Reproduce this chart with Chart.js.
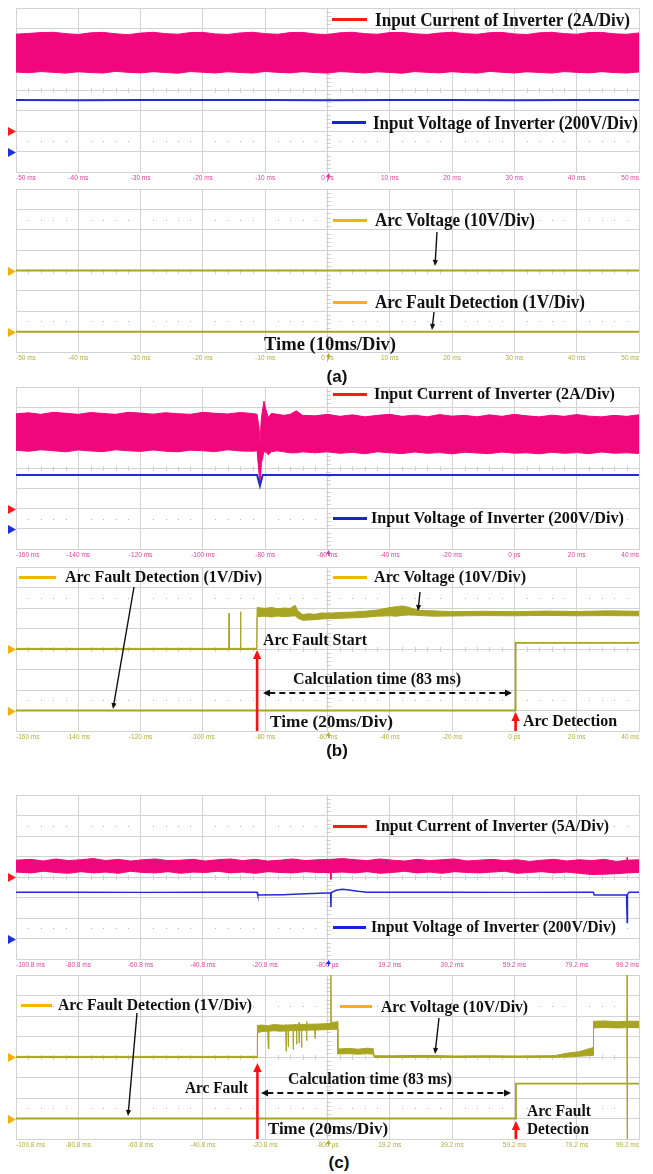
<!DOCTYPE html>
<html>
<head>
<meta charset="utf-8">
<script src="https://cdn.jsdelivr.net/npm/chart.js@4.4.1/dist/chart.umd.min.js"></script>
<style>
  html, body { margin: 0; padding: 0; background: #fff; }
  #page { position: relative; width: 653px; height: 1174px; overflow: hidden; background: #fff; }
  #page canvas { position: absolute; left: 0; }
  .note { position: absolute; white-space: nowrap; font-family: "Liberation Serif", "Times New Roman", serif;
          font-weight: bold; color: #111; transform-origin: 0 50%; }
  .tag { position: absolute; font-family: "Liberation Sans", Arial, sans-serif; font-weight: bold; color: #111;
         transform: translate(-50%, -50%); font-size: 17px; line-height: 17px; }
  .swatch { position: absolute; height: 3px; }
</style>
</head>
<body>
<div id="page"></div>
<script>
// ===================== panel (a): normal operation, 10 ms/div =====================
const ticksA  = [-50, -40, -30, -20, -10, 0, 10, 20, 30, 40, 50];
const labelsA = ['-50 ms', '-40 ms', '-30 ms', '-20 ms', '-10 ms', '0 ps', '10 ms', '20 ms', '30 ms', '40 ms', '50 ms'];

// input current ripple envelope (A)
const tCurA  = [-50,-48,-46,-44,-42,-40,-38,-36,-34,-32,-30,-28,-26,-24,-22,-20,-18,-16,-14,-12,-10,-8,-6,-4,-2,0,
                2,4,6,8,10,12,14,16,18,20,22,24,26,28,30,32,34,36,38,40,42,44,46,48,50];
const hiCurA = [9.45,9.52,9.6,9.63,9.5,9.42,9.58,9.62,9.48,9.4,9.55,9.63,9.5,9.44,9.6,9.62,9.47,9.42,9.57,9.63,
                9.5,9.43,9.6,9.62,9.46,9.41,9.58,9.63,9.5,9.44,9.6,9.62,9.48,9.42,9.56,9.63,9.5,9.43,9.59,9.62,
                9.47,9.41,9.58,9.63,9.5,9.44,9.6,9.62,9.48,9.43,9.57];
const loCurA = [5.75,5.68,5.8,5.72,5.65,5.78,5.7,5.66,5.82,5.72,5.67,5.79,5.7,5.64,5.8,5.73,5.66,5.78,5.71,5.65,
                5.81,5.72,5.67,5.79,5.7,5.65,5.8,5.73,5.66,5.78,5.71,5.64,5.8,5.72,5.67,5.79,5.7,5.65,5.81,5.73,
                5.66,5.78,5.71,5.65,5.8,5.72,5.67,5.79,5.7,5.66,5.76];
// input voltage (V)
const tVoltA = [-50,-40,-30,-20,-10,0,10,20,30,40,50];
const voltA  = [502,501,502,503,502,501,502,502,501,502,502];
// arc voltage (V) and detection output (V)
const tArcA = [-50,-25,0,25,50];
const arcA  = [0,0,0,0,0];
const tDetA = [-50,-25,0,25,50];
const detA  = [0,0,0,0,0];

// ===================== panel (b): arc fault, 20 ms/div =====================
const ticksB  = [-160, -140, -120, -100, -80, -60, -40, -20, 0, 20, 40];
const labelsB = ['-160 ms', '-140 ms', '-120 ms', '-100 ms', '-80 ms', '-60 ms', '-40 ms', '-20 ms', '0 ps', '20 ms', '40 ms'];

const tCurB  = [-160,-156,-152,-148,-144,-140,-136,-132,-128,-124,-120,-116,-112,-108,-104,-100,-96,-92,-88,-84,
                -82.6,-82,-81.7,-81.2,-80.4,-79.8,-79,-78,-76.2,-74,-72,-70,-68,
                -64,-60,-56,-52,-48,-44,-40,-36,-32,-28,-24,-20,-16,-12,-8,-4,0,4,8,12,16,20,24,28,32,36,40];
const hiCurB = [9.35,9.45,9.3,9.5,9.4,9.3,9.48,9.38,9.3,9.5,9.42,9.32,9.46,9.36,9.3,9.5,9.4,9.34,9.48,9.38,
                9.3,8.0,6.5,9.0,10.6,9.8,9.0,9.4,9.3,9.2,9.3,9.65,9.2,
                9.15,9.3,9.1,9.25,9.05,9.2,9.3,9.1,9.22,9.05,9.28,9.12,9.2,9.05,9.25,9.1,9.3,9.15,9.05,9.22,9.1,
                9.28,9.12,9.05,9.2,9.1,9.25];
const loCurB = [5.75,5.65,5.8,5.7,5.6,5.78,5.68,5.62,5.8,5.7,5.64,5.78,5.66,5.6,5.76,5.7,5.62,5.8,5.68,5.66,
                5.7,3.5,2.3,4.5,5.6,5.6,5.3,5.6,5.7,5.6,5.5,5.5,5.6,
                5.5,5.6,5.45,5.55,5.4,5.6,5.5,5.42,5.58,5.45,5.52,5.4,5.56,5.48,5.42,5.58,5.46,5.5,5.4,5.55,5.45,
                5.52,5.42,5.58,5.46,5.5,5.44];
const tVoltB = [-160,-140,-120,-100,-90,-82.6,-81.7,-80.8,-80,-60,-40,-20,0,20,40];
const voltB  = [532,531,532,531,532,532,424,530,531,532,531,532,531,532,531];

// arc voltage envelope (V): arc ignites at -82.6 ms
const tArcB  = [-160,-140,-120,-100,-92,-91.7,-91.6,-91.5,-88.1,-88,-87.9,-87.8,-82.7,-82.6,
                -80,-78,-76,-74,-72,-70.4,-69.5,-68,-66,-64,-62,-60,-56,-52,-48,-44,-40,
                -38,-36,-34,-32,-30,-26,-20,-10,0,10,20,30,40];
const hiArcB = [0.3,0.3,0.3,0.3,0.3,0.3,17.5,0.3,0.3,0.3,18.2,0.3,0.3,20.2,
                19.8,20.3,19.6,20.0,19.8,21.4,18.5,16.8,17.2,16.9,17.6,17.4,17.8,18.0,18.4,19.0,20.2,
                20.6,21.0,20.4,19.4,18.8,18.6,18.2,18.4,18.2,18.5,18.3,18.6,18.4];
const loArcB = [-0.3,-0.3,-0.3,-0.3,-0.3,-0.3,0,-0.3,-0.3,-0.3,0,-0.3,-0.3,15.8,
                16.0,15.6,16.1,15.8,16.0,16.2,15.0,14.0,14.2,14.3,14.6,14.8,15.0,15.2,15.5,16.0,16.2,
                16.0,16.4,16.6,16.5,16.3,16.0,16.1,16.3,16.2,16.4,16.2,16.3,16.2];
// detection output (V): goes high 83 ms after ignition
const tDetB = [-160,-120,-80,-40,0.4,0.4,20,40];
const detB  = [0,0,0,0,0,3.3,3.3,3.3];

// ===================== panel (c): intermittent arc, 20 ms/div =====================
const ticksC  = [-100.8, -80.8, -60.8, -40.8, -20.8, -0.8, 19.2, 39.2, 59.2, 79.2, 99.2];
const labelsC = ['-100.8 ms', '-80.8 ms', '-60.8 ms', '-40.8 ms', '-20.8 ms', '-800 µs', '19.2 ms', '39.2 ms', '59.2 ms', '79.2 ms', '99.2 ms'];

const tCurC  = [-100.8,-96,-92,-88,-84,-80,-76,-72,-68,-64,-60,-56,-52,-48,-44,-40,-36,-32,-28,-24,-20,-16,-12,-8,-4,
                0.2,0.3,0.4,4,8,12,16,20,24,28,32,36,40,44,48,52,56,60,64,68,72,76,80,84,88,92,95.3,95.4,95.5,99.2];
const hiCurC = [4.1,4.3,3.9,4.4,4.0,4.2,4.5,4.0,4.3,3.9,4.2,4.4,4.0,4.1,4.3,3.9,4.2,4.4,4.0,4.3,3.9,4.1,4.4,4.0,4.2,
                4.3,4.3,4.3,4.5,4.2,4.0,4.4,4.1,3.9,4.3,4.0,4.2,4.4,3.9,4.1,4.3,4.0,4.2,3.8,4.1,4.3,3.9,4.2,4.0,4.3,3.8,
                4.1,4.8,4.1,4.2];
const loCurC = [1.2,1.0,1.4,1.1,0.9,1.3,1.0,1.2,0.9,1.4,1.1,1.0,1.3,0.9,1.2,1.1,1.4,1.0,1.2,0.9,1.3,1.1,1.0,1.3,1.1,
                1.1,-0.6,1.1,1.2,1.0,1.3,0.9,1.1,1.4,1.0,1.2,0.9,1.3,1.1,1.0,1.2,1.4,0.9,1.1,1.3,1.0,1.2,0.9,0.6,0.7,0.8,
                1.0,1.0,1.0,1.1];
const tVoltC = [-100.8,-80,-60,-40,-23.4,-23.2,-15,-8,-1,0.2,0.3,0.4,2,4,6,9,12,20,40,60,80,84.6,84.8,95.2,95.3,95.4,95.5,96,99.2];
const voltC  = [451,452,450,451,451,424,428,436,444,446,304,448,470,480,474,460,452,451,452,450,451,451,424,424,424,157,430,451,451];

// arc voltage envelope (V): arc ignites at -23.3 ms
const tArcC  = [-100.8,-80,-60,-40,-23.4,-23.3,-22,-20,-19.8,-19.6,-18,-16,-14.2,-14.1,-14,-13.5,-13.4,-13.3,-11.9,-11.8,
                -11.7,-10.8,-10.7,-10.6,-10,-9.9,-9.8,-9.2,-9.1,-9,-7.6,-7.5,-7.4,-4.9,-4.8,-4.7,-2,0.2,0.3,0.4,
                2.4,2.5,6,9,12,13.9,14.2,20,30,40,50,60,70,72.3,76,80,84.5,84.6,88,92,95.3,95.4,95.5,99.2];
const hiArcC = [0.3,0.3,0.3,0.3,0.3, 15.4,15.6,15.2,15.2,15.4, 15.8,15.6,15.5,15.8,15.5, 15.6,15.7,15.6,15.7,15.7,
                15.8,15.8,15.8,15.9,15.9, 17.0,15.8,15.9,15.9,15.9, 15.9,17.2,16.0,16.0,16.2, 16.0,16.2,16.4,40,16.8,
                17.2,3.9,4.2,3.8,4.3, 4.0,0.6,0.6,0.8,0.5, 0.6,0.5,0.6,0.7,1.8, 2.6,4.6,17.4,17.6,17.2, 17.4,40,17.5,17.4];
const loArcC = [-0.3,-0.3,-0.3,-0.3,-0.3, 11.8,12.4,12.6,4.0,12.6, 12.8,12.6,12.7,2.8,12.7, 12.8,5.0,12.8,12.9,3.6,
                12.9,12.8,6.2,12.9,12.9, 6.8,12.8,13.0,4.6,13.0, 13.1,8.0,13.1,13.2,9.0, 13.2,13.3,13.4,13.4,13.5,
                13.6,1.5,1.6,1.4,1.6, 1.4,-0.2,-0.2,-0.1,-0.2, -0.1,-0.2,-0.1,-0.1,0.0, 0.4,0.8,14.2,14.4,14.2, 14.3,-40,14.4,14.3];
// detection output (V): goes high 83 ms after ignition
const tDetC = [-100.8,-60,-20,20,59.7,59.7,80,99.2];
const detC  = [0,0,0,0,0,1.7,1.7,1.7];

// ===================== styling =====================
const GRID = '#d2d2d2', DOTS = '#b4b4b4';
const PINK = 'rgb(242,6,124)', BLUE = 'rgb(35,45,205)', OLIVE = 'rgb(168,164,36)';
const TICK_PINK = '#d8449c', TICK_OLIVE = '#b2ae3c';
const MK_RED = '#ff1a1a', MK_BLUE = '#1f2fe0', MK_YEL = '#f2b000';
const SW_RED = '#ff1a1a', SW_BLUE = '#1a22d6', SW_YEL = '#f4b400';

const pts = (t, v) => t.map((x, i) => ({ x, y: v[i] }));
function band(t, hi, lo, axis, color) {
  return [
    { data: pts(t, hi), yAxisID: axis, borderColor: color, borderWidth: 1, fill: false },
    { data: pts(t, lo), yAxisID: axis, borderColor: color, borderWidth: 1, fill: '-1', backgroundColor: color }
  ];
}
function trace(t, v, axis, color, w) {
  return { data: pts(t, v), yAxisID: axis, borderColor: color, borderWidth: w, fill: false };
}

// scope graticule extras, channel markers and annotation arrows
function drawHead(ctx, x, y, ang, len, half) {
  ctx.beginPath();
  ctx.moveTo(x, y);
  ctx.lineTo(x - len * Math.cos(ang) + half * Math.sin(ang), y - len * Math.sin(ang) - half * Math.cos(ang));
  ctx.lineTo(x - len * Math.cos(ang) - half * Math.sin(ang), y - len * Math.sin(ang) + half * Math.cos(ang));
  ctx.closePath();
  ctx.fill();
}
const ARROW = {
  thin:   { color: '#111', w: 1.4, len: 6, half: 2.6 },
  red:    { color: '#ff1010', w: 2.6, len: 9, half: 4.2 },
  dashed: { color: '#111', w: 2, len: 7, half: 3.6, dash: [6, 4], both: true }
};
const scopePlugin = {
  id: 'scope',
  beforeDatasetsDraw(chart) {
    const { ctx, chartArea: { left, right, top, bottom } } = chart;
    const dx = (right - left) / 10, dy = (bottom - top) / 8;
    const cx = left + 5 * dx, cy = top + 4 * dy;
    ctx.save();
    ctx.fillStyle = GRID;
    for (let i = 1; i < 50; i++) {
      if (i % 5 === 0) continue;
      ctx.fillRect(Math.round(left + i * dx / 5), Math.round(cy) - 2, 1, 5);
    }
    for (let j = 1; j < 40; j++) {
      if (j % 5 === 0) continue;
      ctx.fillRect(Math.round(cx) - 2, Math.round(top + j * dy / 5), 5, 1);
    }
    ctx.fillStyle = DOTS;
    for (const r of [1.5, 6.5]) {
      const y = Math.round(top + r * dy);
      for (let i = 1; i < 50; i++) {
        if (i % 5 === 0) continue;
        ctx.fillRect(Math.round(left + i * dx / 5), y, 1, 1);
      }
    }
    ctx.restore();
  },
  afterDraw(chart, args, opts) {
    const { ctx, chartArea: { left, right, bottom } } = chart;
    ctx.save();
    // channel ground markers
    for (const m of opts.markers) {
      const y = Math.round(chart.scales[m.axis].getPixelForValue(0)) + 0.5;
      ctx.fillStyle = m.color;
      ctx.beginPath();
      ctx.moveTo(left - 8, y - 4.5); ctx.lineTo(left, y); ctx.lineTo(left - 8, y + 4.5); ctx.closePath();
      ctx.fill();
    }
    // trigger position marker under the time axis
    const cx = Math.round((left + right) / 2) + 0.5;
    ctx.fillStyle = opts.trigColor;
    ctx.beginPath();
    ctx.moveTo(cx, bottom + 1); ctx.lineTo(cx - 2.5, bottom + 5); ctx.lineTo(cx + 2.5, bottom + 5); ctx.closePath();
    ctx.fill();
    ctx.fillRect(cx - 0.5, bottom + 4, 1, 3);
    // annotation arrows (page coordinates, or time for x)
    const top0 = opts.pageTop;
    for (const a of opts.arrows) {
      const st = ARROW[a.kind];
      const x1 = a.t1 !== undefined ? chart.scales.x.getPixelForValue(a.t1) : a.x1;
      const x2 = a.t2 !== undefined ? chart.scales.x.getPixelForValue(a.t2) : a.x2;
      const y1 = a.y1 - top0, y2 = a.y2 - top0;
      const ang = Math.atan2(y2 - y1, x2 - x1);
      const ux = Math.cos(ang), uy = Math.sin(ang);
      ctx.strokeStyle = st.color; ctx.fillStyle = st.color; ctx.lineWidth = st.w;
      ctx.setLineDash(st.dash || []);
      ctx.beginPath();
      const s = st.both ? st.len * 0.9 : 0;
      ctx.moveTo(x1 + ux * s, y1 + uy * s);
      ctx.lineTo(x2 - ux * st.len * 0.9, y2 - uy * st.len * 0.9);
      ctx.stroke();
      ctx.setLineDash([]);
      drawHead(ctx, x2, y2, ang, st.len, st.half);
      if (st.both) drawHead(ctx, x1, y1, ang + Math.PI, st.len, st.half);
    }
    ctx.restore();
  }
};

// ===================== panels =====================
const panels = [
  { top: 8, bottom: 172, xMin: -50, xMax: 50, ticks: ticksA, labels: labelsA, tickColor: TICK_PINK, trigColor: TICK_PINK,
    axes: { i: { offset: -2, perDiv: 2 }, v: { offset: -3, perDiv: 200 } },
    markers: [{ axis: 'i', color: MK_RED }, { axis: 'v', color: MK_BLUE }],
    datasets: [trace(tVoltA, voltA, 'v', BLUE, 2), ...band(tCurA, hiCurA, loCurA, 'i', PINK)],
    arrows: [] },
  { top: 189, bottom: 352, xMin: -50, xMax: 50, ticks: ticksA, labels: labelsA, tickColor: TICK_OLIVE, trigColor: TICK_OLIVE,
    axes: { a: { offset: 0, perDiv: 10 }, d: { offset: -3, perDiv: 1 } },
    markers: [{ axis: 'a', color: MK_YEL }, { axis: 'd', color: MK_YEL }],
    datasets: [trace(tArcA, arcA, 'a', OLIVE, 2), trace(tDetA, detA, 'd', OLIVE, 2)],
    arrows: [ { kind: 'thin', x1: 437, y1: 232, x2: 435, y2: 266 },
              { kind: 'thin', x1: 434, y1: 312, x2: 432, y2: 330 } ] },
  { top: 387, bottom: 549, xMin: -160, xMax: 40, ticks: ticksB, labels: labelsB, tickColor: TICK_PINK, trigColor: TICK_PINK,
    axes: { i: { offset: -2, perDiv: 2 }, v: { offset: -3, perDiv: 200 } },
    markers: [{ axis: 'i', color: MK_RED }, { axis: 'v', color: MK_BLUE }],
    datasets: [trace(tVoltB, voltB, 'v', BLUE, 2), ...band(tCurB, hiCurB, loCurB, 'i', PINK)],
    arrows: [] },
  { top: 567, bottom: 731, xMin: -160, xMax: 40, ticks: ticksB, labels: labelsB, tickColor: TICK_OLIVE, trigColor: TICK_OLIVE,
    axes: { a: { offset: 0, perDiv: 10 }, d: { offset: -3, perDiv: 1 } },
    markers: [{ axis: 'a', color: MK_YEL }, { axis: 'd', color: MK_YEL }],
    datasets: [trace(tDetB, detB, 'd', OLIVE, 1.8), ...band(tArcB, hiArcB, loArcB, 'a', OLIVE)],
    arrows: [ { kind: 'thin', x1: 134, y1: 587, x2: 113, y2: 709 },
              { kind: 'thin', x1: 420, y1: 592, x2: 418, y2: 611 },
              { kind: 'red', t1: -82.6, y1: 731, t2: -82.6, y2: 650 },
              { kind: 'red', t1: 0.4, y1: 731, t2: 0.4, y2: 712 },
              { kind: 'dashed', x1: 263, y1: 693, x2: 512, y2: 693 } ] },
  { top: 795, bottom: 959, xMin: -100.8, xMax: 99.2, ticks: ticksC, labels: labelsC, tickColor: TICK_PINK, trigColor: MK_BLUE,
    axes: { i: { offset: 0, perDiv: 5 }, v: { offset: -3, perDiv: 200 } },
    markers: [{ axis: 'i', color: MK_RED }, { axis: 'v', color: MK_BLUE }],
    datasets: [trace(tVoltC, voltC, 'v', BLUE, 1.5), ...band(tCurC, hiCurC, loCurC, 'i', PINK)],
    arrows: [] },
  { top: 975, bottom: 1139, xMin: -100.8, xMax: 99.2, ticks: ticksC, labels: labelsC, tickColor: TICK_OLIVE, trigColor: TICK_OLIVE,
    axes: { a: { offset: 0, perDiv: 10 }, d: { offset: -3, perDiv: 1 } },
    markers: [{ axis: 'a', color: MK_YEL }, { axis: 'd', color: MK_YEL }],
    datasets: [trace(tDetC, detC, 'd', OLIVE, 1.8), ...band(tArcC, hiArcC, loArcC, 'a', OLIVE)],
    arrows: [ { kind: 'thin', x1: 137, y1: 1013, x2: 128, y2: 1116 },
              { kind: 'thin', x1: 439, y1: 1018, x2: 435, y2: 1054 },
              { kind: 'red', t1: -23.3, y1: 1139, t2: -23.3, y2: 1063 },
              { kind: 'red', t1: 59.7, y1: 1139, t2: 59.7, y2: 1121 },
              { kind: 'dashed', x1: 261, y1: 1093, x2: 511, y2: 1093 } ] }
];

const page = document.getElementById('page');
const DIVS_Y = [-4, -3, -2, -1, 0, 1, 2, 3, 4];

panels.forEach(p => {
  const cv = document.createElement('canvas');
  const pageTop = p.top - 1;
  const h = (p.bottom - p.top) + 1 + 12;
  cv.width = 653; cv.height = h;
  cv.style.top = pageTop + 'px';
  cv.style.width = '653px'; cv.style.height = h + 'px';
  page.appendChild(cv);

  const scales = {
    x: {
      type: 'linear', position: 'bottom', min: p.xMin, max: p.xMax,
      afterBuildTicks: s => { s.ticks = p.ticks.map(v => ({ value: v })); },
      afterFit: s => { s.height = 12; },
      grid: { color: GRID, lineWidth: 1, drawTicks: false },
      border: { color: GRID },
      ticks: { align: 'inner', padding: 2, color: p.tickColor, maxRotation: 0, autoSkip: false,
               font: { family: "'Liberation Sans', Arial, sans-serif", size: 6.5 },
               callback: (v, i) => p.labels[i] }
    },
    g: {
      type: 'linear', position: 'left', min: -4, max: 4,
      afterBuildTicks: s => { s.ticks = DIVS_Y.map(v => ({ value: v })); },
      afterFit: s => { s.width = 0; },
      grid: { color: GRID, lineWidth: 1, drawTicks: false },
      border: { color: GRID },
      ticks: { display: false }
    }
  };
  for (const [id, a] of Object.entries(p.axes)) {
    scales[id] = { type: 'linear', display: false,
                   min: (-4 - a.offset) * a.perDiv, max: (4 - a.offset) * a.perDiv };
  }

  new Chart(cv, {
    type: 'line',
    data: { datasets: p.datasets },
    options: {
      responsive: false, animation: false, devicePixelRatio: 1, events: [],
      layout: { padding: { left: 16, right: 14, top: 1, bottom: 0 } },
      elements: { line: { tension: 0, borderCapStyle: 'butt' }, point: { radius: 0 } },
      plugins: {
        legend: { display: false }, tooltip: { enabled: false },
        scope: { markers: p.markers, arrows: p.arrows, trigColor: p.trigColor, pageTop }
      },
      scales
    },
    plugins: [scopePlugin]
  });
});

// ===================== legends and captions =====================
const swatches = [
  { x1: 332, x2: 367, y: 19, color: SW_RED },   { x1: 332, x2: 366, y: 122, color: SW_BLUE },
  { x1: 333, x2: 367, y: 220, color: SW_YEL },  { x1: 333, x2: 367, y: 302, color: SW_YEL },
  { x1: 333, x2: 367, y: 394, color: SW_RED },  { x1: 333, x2: 367, y: 518, color: SW_BLUE },
  { x1: 19,  x2: 56,  y: 577, color: SW_YEL },  { x1: 333, x2: 367, y: 577, color: SW_YEL },
  { x1: 333, x2: 367, y: 826, color: SW_RED },  { x1: 333, x2: 366, y: 927, color: SW_BLUE },
  { x1: 21,  x2: 52,  y: 1005, color: SW_YEL }, { x1: 340, x2: 372, y: 1006, color: SW_YEL }
];
swatches.forEach(s => {
  const d = document.createElement('div');
  d.className = 'swatch';
  d.style.left = s.x1 + 'px'; d.style.width = (s.x2 - s.x1) + 'px';
  d.style.top = (s.y - 1.5) + 'px'; d.style.background = s.color;
  page.appendChild(d);
});

const notes = [
  { text: 'Input Current of Inverter (2A/Div)',   x: 375, y: 19,   w: 255, size: 19 },
  { text: 'Input Voltage of Inverter (200V/Div)', x: 373, y: 122,  w: 265, size: 19 },
  { text: 'Arc Voltage (10V/Div)',                x: 375, y: 220,  w: 160, size: 18.5 },
  { text: 'Arc Fault Detection (1V/Div)',         x: 375, y: 302,  w: 210, size: 18.5 },
  { text: 'Time (10ms/Div)',                      x: 264, y: 344,  w: 132, size: 18 },
  { text: 'Input Current of Inverter (2A/Div)',   x: 374, y: 394,  w: 241, size: 17.5 },
  { text: 'Input Voltage of Inverter (200V/Div)', x: 371, y: 518,  w: 253, size: 17.5 },
  { text: 'Arc Fault Detection (1V/Div)',         x: 65,  y: 577,  w: 197, size: 16 },
  { text: 'Arc Voltage (10V/Div)',                x: 374, y: 577,  w: 152, size: 16 },
  { text: 'Arc Fault Start',                      x: 263, y: 640,  w: 104, size: 16 },
  { text: 'Calculation time (83 ms)',             x: 293, y: 679,  w: 168, size: 16 },
  { text: 'Time (20ms/Div)',                      x: 270, y: 722,  w: 123, size: 16.5 },
  { text: 'Arc Detection',                        x: 523, y: 721,  w: 94,  size: 16 },
  { text: 'Input Current of Inverter (5A/Div)',   x: 375, y: 826,  w: 234, size: 17.5 },
  { text: 'Input Voltage of Inverter (200V/Div)', x: 371, y: 927,  w: 245, size: 17.5 },
  { text: 'Arc Fault Detection (1V/Div)',         x: 58,  y: 1005, w: 194, size: 16 },
  { text: 'Arc Voltage (10V/Div)',                x: 381, y: 1007, w: 147, size: 16 },
  { text: 'Arc Fault',                            x: 185, y: 1088, w: 63,  size: 16 },
  { text: 'Calculation time (83 ms)',             x: 288, y: 1079, w: 164, size: 16 },
  { text: 'Time (20ms/Div)',                      x: 268, y: 1129, w: 120, size: 16.5 },
  { text: 'Arc Fault',                            x: 527, y: 1111, w: 64,  size: 16 },
  { text: 'Detection',                            x: 527, y: 1129, w: 62,  size: 16 }
];
notes.forEach(n => {
  const d = document.createElement('div');
  d.className = 'note';
  d.textContent = n.text;
  d.style.fontSize = n.size + 'px';
  d.style.lineHeight = n.size + 'px';
  d.style.left = n.x + 'px';
  d.style.top = (n.y - n.size / 2) + 'px';
  page.appendChild(d);
  const natural = d.getBoundingClientRect().width;
  d.style.transform = 'scaleX(' + (n.w / natural).toFixed(4) + ')';
});

[{ text: '(a)', x: 337, y: 376 }, { text: '(b)', x: 337, y: 750 }, { text: '(c)', x: 339, y: 1162 }].forEach(c => {
  const d = document.createElement('div');
  d.className = 'tag';
  d.textContent = c.text;
  d.style.left = c.x + 'px'; d.style.top = c.y + 'px';
  page.appendChild(d);
});
</script>
</body>
</html>
